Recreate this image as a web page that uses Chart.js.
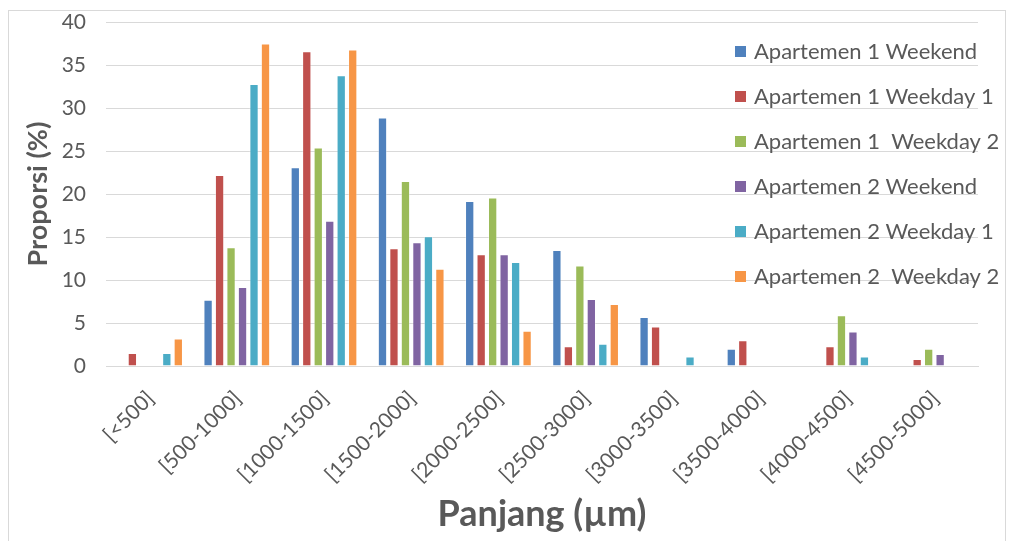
<!DOCTYPE html>
<html>
<head>
<meta charset="utf-8">
<script src="https://cdn.jsdelivr.net/npm/chart.js@4"></script>
<style>
  html, body { margin: 0; padding: 0; background: #fff; }
  #wrap { position: relative; width: 1011px; height: 541px; }
  #frame { position: absolute; left: 8px; top: 10px; right: 5px; bottom: -2px; border: 1px solid #d9d9d9; }
  canvas { position: absolute; left: 0; top: 0; }
</style>
</head>
<body>
<div id="wrap">
  <div id="frame"></div>
  <canvas id="c" width="1011" height="541"></canvas>
</div>
<script>
// Length classes (µm)
const categories = ['[<500]', '[500-1000]', '[1000-1500]', '[1500-2000]', '[2000-2500]',
                    '[2500-3000]', '[3000-3500]', '[3500-4000]', '[4000-4500]', '[4500-5000]'];

// Proportion (%) per class; null = no fibres in that class
const apt1Weekend  = [null, 7.7, 23.1, 28.9, 19.2, 13.5, 5.7, 2.0, null, null];
const apt1Weekday1 = [1.5, 22.2, 36.6, 13.7, 13.0, 2.3, 4.6, 3.0, 2.3, 0.8];
const apt1Weekday2 = [null, 13.8, 25.4, 21.5, 19.6, 11.7, null, null, 5.9, 2.0];
const apt2Weekend  = [null, 9.2, 16.9, 14.4, 13.0, 7.8, null, null, 4.0, 1.4];
const apt2Weekday1 = [1.5, 32.8, 33.8, 15.1, 12.1, 2.6, 1.1, null, 1.1, null];
const apt2Weekday2 = [3.2, 37.5, 36.8, 11.3, 4.1, 7.2, null, null, null, null];

const seriesNames = ['Apartemen 1 Weekend', 'Apartemen 1 Weekday 1', 'Apartemen 1  Weekday 2',
                     'Apartemen 2 Weekend', 'Apartemen 2 Weekday 1', 'Apartemen 2  Weekday 2'];
const seriesData = [apt1Weekend, apt1Weekday1, apt1Weekday2, apt2Weekend, apt2Weekday1, apt2Weekday2];
const seriesColors = ['#4F81BD', '#C0504D', '#9BBB59', '#8064A2', '#4BACC6', '#F79646'];

const yTicks = { min: 0, max: 40, step: 5 };

const FONT = 'Lato, "Liberation Sans", sans-serif';
const GREY = '#595959';

// Legend drawn on top of the plot area, at the right
const sideLegend = {
  id: 'sideLegend',
  afterDraw(chart) {
    const ctx = chart.ctx;
    ctx.save();
    ctx.font = '22px ' + FONT;
    ctx.textBaseline = 'middle';
    ctx.textAlign = 'left';
    chart.data.datasets.forEach((ds, i) => {
      const y = 52 + i * 45;
      ctx.fillStyle = ds.backgroundColor;
      ctx.fillRect(735, y - 6, 11, 11);
      ctx.fillStyle = GREY;
      ctx.fillText(ds.label, 754, y);
    });
    ctx.restore();
  }
};

new Chart(document.getElementById('c'), {
  type: 'bar',
  data: {
    labels: categories,
    datasets: seriesNames.map((name, i) => ({
      label: name,
      data: seriesData[i],
      backgroundColor: seriesColors[i],
      borderColor: 'rgba(255,255,255,0.35)',
      borderWidth: 1,
      categoryPercentage: 0.79,
      barPercentage: 0.81
    }))
  },
  options: {
    responsive: false,
    animation: false,
    layout: { padding: { left: 22, right: 33, top: 22, bottom: 0 } },
    plugins: {
      legend: { display: false },
      tooltip: { enabled: false }
    },
    scales: {
      y: {
        min: yTicks.min,
        max: yTicks.max,
        ticks: { stepSize: yTicks.step, color: GREY, font: { family: FONT, size: 21 }, padding: 20 },
        grid: { color: '#d9d9d9', drawTicks: false, lineWidth: 1 },
        border: { display: false },
        title: {
          display: true,
          text: 'Proporsi (%)',
          color: GREY,
          font: { family: FONT, size: 27, weight: 'bold' },
          padding: { top: 0, bottom: 4 }
        },
        afterFit(scale) {
          scale.width = 84;
          scale.paddingTop = 0;
          scale.paddingBottom = 0;
        }
      },
      x: {
        ticks: {
          color: GREY,
          font: { family: FONT, size: 21 },
          minRotation: 45,
          maxRotation: 45,
          autoSkip: false,
          padding: 20,
          labelOffset: 1
        },
        grid: { display: false, drawTicks: false },
        border: { display: true, color: '#d9d9d9', width: 1 },
        title: {
          display: true,
          text: 'Panjang (µm)',
          color: GREY,
          font: { family: FONT, size: 36, weight: 'bold' },
          padding: { top: 0, bottom: 5 }
        },
        afterFit(scale) { scale.height = 175; }
      }
    }
  },
  plugins: [sideLegend]
});
</script>
</body>
</html>
